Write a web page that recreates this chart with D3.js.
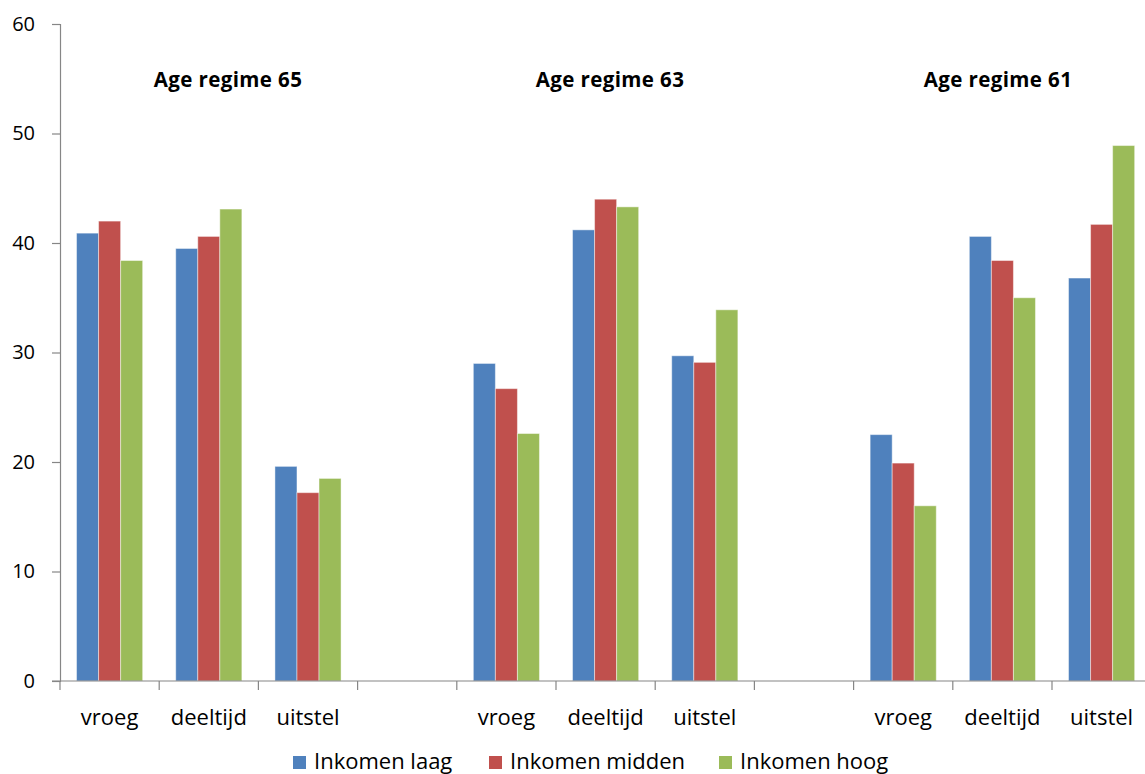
<!DOCTYPE html>
<html>
<head>
<meta charset="utf-8">
<script src="https://cdn.jsdelivr.net/npm/d3@7"></script>
<style>
  html, body { margin: 0; padding: 0; background: #fff; }
  svg { display: block; }
  text { font-family: "Open Sans", "DejaVu Sans", sans-serif; fill: #000; }
</style>
</head>
<body>
<svg id="chart" width="1145" height="774"></svg>
<script>
// Outcome categories within each age regime
const categories = ["vroeg", "deeltijd", "uitstel"];
// Age regimes, left to right
const regimes = ["Age regime 65", "Age regime 63", "Age regime 61"];
// Income series (values per regime × category, in reading order)
const seriesNames = ["Inkomen laag", "Inkomen midden", "Inkomen hoog"];
const inkomenLaag   = [40.9, 39.5, 19.6, 29.0, 41.2, 29.7, 22.5, 40.6, 36.8];
const inkomenMidden = [42.0, 40.6, 17.2, 26.7, 44.0, 29.1, 19.9, 38.4, 41.7];
const inkomenHoog   = [38.4, 43.1, 18.5, 22.6, 43.3, 33.9, 16.0, 35.0, 48.9];
// Y axis ticks
const yTicks = [0, 10, 20, 30, 40, 50, 60];

const colors = ["#4F81BD", "#C0504D", "#9BBB59"];
const axisColor = "#868686";

const svg = d3.select("#chart");

// Layout
const x0 = 60, slotW = 99.2, yTop = 24, yBottom = 681;

// Build the slot sequence: three categories per regime, with an empty slot between regimes
const slots = [];
regimes.forEach((r, ri) => {
  categories.forEach((c, ci) => slots.push({ key: r + "|" + c, label: c, ri, ci }));
  if (ri < regimes.length - 1) slots.push({ key: r + "|gap", label: "", ri, ci: -1 });
});

const x = d3.scaleBand()
  .domain(slots.map(d => d.key))
  .range([x0, x0 + slots.length * slotW])
  .paddingInner(0).paddingOuter(0);

const xs = d3.scaleBand()
  .domain(seriesNames)
  .range([0, x.bandwidth()])
  .paddingInner(0).paddingOuter(0.75);

const y = d3.scaleLinear().domain([0, 60]).range([yBottom, yTop]);

const seriesValues = [inkomenLaag, inkomenMidden, inkomenHoog];

// Flatten bar records
const bars = [];
slots.filter(s => s.ci >= 0).forEach((s, i) => {
  seriesNames.forEach((name, si) => {
    bars.push({ slot: s.key, series: name, si, value: seriesValues[si][i] });
  });
});

// Bars
svg.append("g").selectAll("rect")
  .data(bars)
  .join("rect")
  .attr("x", d => x(d.slot) + xs(d.series))
  .attr("y", d => y(d.value))
  .attr("width", xs.bandwidth())
  .attr("height", d => y(0) - y(d.value))
  .attr("fill", d => colors[d.si])
  .attr("stroke", "#ffffff")
  .attr("stroke-opacity", 0.45)
  .attr("stroke-width", 1);

// Y axis
const yAxis = d3.axisLeft(y).tickValues(yTicks).tickSize(8).tickPadding(17).tickFormat(d3.format("d"));
const gy = svg.append("g").attr("transform", `translate(${x0},0)`).call(yAxis);
gy.select(".domain").attr("stroke", axisColor).attr("stroke-width", 1.2);
gy.selectAll(".tick line").attr("stroke", axisColor).attr("stroke-width", 1.2);
gy.selectAll(".tick text")
  .style("font-family", "\"Open Sans\", sans-serif")
  .style("font-size", "20px")
  .attr("fill", "#000");

// X axis line and slot boundary ticks
const boundaries = d3.range(slots.length + 1).map(i => x0 + i * slotW);
svg.append("line")
  .attr("x1", x0 - 8).attr("x2", 1145)
  .attr("y1", y(0)).attr("y2", y(0))
  .attr("stroke", axisColor).attr("stroke-width", 1.2);
svg.append("g").selectAll("line")
  .data(boundaries)
  .join("line")
  .attr("x1", d => d).attr("x2", d => d)
  .attr("y1", y(0)).attr("y2", y(0) + 9)
  .attr("stroke", axisColor).attr("stroke-width", 1.2);

// Category labels
svg.append("g").selectAll("text")
  .data(slots.filter(s => s.label))
  .join("text")
  .attr("x", d => x(d.key) + x.bandwidth() / 2)
  .attr("y", 725)
  .attr("text-anchor", "middle")
  .style("font-size", "22px")
  .text(d => d.label);

// Regime titles
const titleX = [228, 610, 998];
svg.append("g").selectAll("text")
  .data(regimes)
  .join("text")
  .attr("x", (d, i) => titleX[i])
  .attr("y", 87)
  .attr("text-anchor", "middle")
  .style("font-size", "20.5px")
  .style("letter-spacing", "0.4px")
  .style("font-weight", "bold")
  .text(d => d);

// Legend
const legendX = [293, 489, 719];
const lg = svg.append("g").selectAll("g")
  .data(seriesNames)
  .join("g")
  .attr("transform", (d, i) => `translate(${legendX[i]},756)`);
lg.append("rect")
  .attr("width", 13).attr("height", 13)
  .attr("fill", (d, i) => colors[i]);
lg.append("text")
  .attr("x", 21).attr("y", 12.5)
  .style("font-size", "22px")
  .text(d => d);
</script>
</body>
</html>
